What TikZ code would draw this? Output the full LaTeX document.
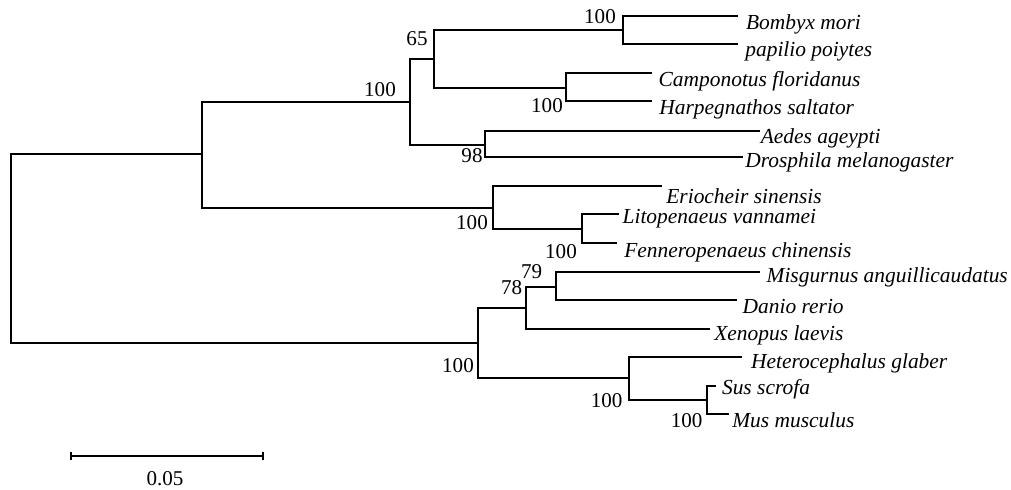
\documentclass[tikz,border=0pt]{standalone}
\usepackage{fontspec}
\setmainfont{Liberation Serif}
\usepackage{tikz}
\usetikzlibrary{calc}

\tikzset{
  branch/.style={line width=1pt},
  taxon/.style={anchor=base west, inner sep=0pt,
    font=\fontsize{12.2}{14}\selectfont\itshape},
  boot/.style={inner sep=0pt, font=\fontsize{12}{14}\selectfont}
}

\begin{document}
\begin{tikzpicture}[x=0.02cm,y=-0.02cm]
  \useasboundingbox (0,0) rectangle (1011,490);

  % Internal nodes
  \coordinate (root) at (11,248);
  \coordinate (arth) at (202,154);
  \coordinate (ins)  at (410,102);
  \coordinate (n65)  at (434,59);
  \coordinate (lep)  at (623,30);
  \coordinate (hym)  at (566,88);
  \coordinate (dip)  at (485,145);
  \coordinate (crus) at (493,208);
  \coordinate (pen)  at (582,229);
  \coordinate (vert) at (478,343);
  \coordinate (n78)  at (526,308);
  \coordinate (n79)  at (556,287);
  \coordinate (mam)  at (629,378);
  \coordinate (sm)   at (707,400);

  % Tips
  \coordinate (bom) at (738,16);
  \coordinate (pap) at (738,44);
  \coordinate (cam) at (652,73);
  \coordinate (har) at (652,101);
  \coordinate (aed) at (760,131);
  \coordinate (dro) at (743,157);
  \coordinate (eri) at (662,186);
  \coordinate (lit) at (619,214);
  \coordinate (fen) at (617,243);
  \coordinate (mis) at (760,272);
  \coordinate (dan) at (737,300);
  \coordinate (xen) at (710,329);
  \coordinate (het) at (742,357);
  \coordinate (sus) at (716,386);
  \coordinate (mus) at (729,414);

  % Branches
  \draw[branch] (root) |- (arth);
  \draw[branch] (root) |- (vert);
  \draw[branch] (arth) |- (ins);
  \draw[branch] (arth) |- (crus);
  \draw[branch] (ins) |- (n65);
  \draw[branch] (ins) |- (dip);
  \draw[branch] (n65) |- (lep);
  \draw[branch] (n65) |- (hym);
  \draw[branch] (lep) |- (bom);
  \draw[branch] (lep) |- (pap);
  \draw[branch] (hym) |- (cam);
  \draw[branch] (hym) |- (har);
  \draw[branch] (dip) |- (aed);
  \draw[branch] (dip) |- (dro);
  \draw[branch] (crus) |- (eri);
  \draw[branch] (crus) |- (pen);
  \draw[branch] (pen) |- (lit);
  \draw[branch] (pen) |- (fen);
  \draw[branch] (vert) |- (n78);
  \draw[branch] (vert) |- (mam);
  \draw[branch] (n78) |- (n79);
  \draw[branch] (n78) |- (xen);
  \draw[branch] (n79) |- (mis);
  \draw[branch] (n79) |- (dan);
  \draw[branch] (mam) |- (het);
  \draw[branch] (mam) |- (sm);
  \draw[branch] (sm) |- (sus);
  \draw[branch] (sm) |- (mus);

  % Taxa
  \node[taxon] (tbom) at (745.7,29.3)  {Bombyx mori};
  \node[taxon] (tpap) at (745,56)      {papilio poiytes};
  \node[taxon] (tcam) at (658.3,86.7)  {Camponotus floridanus};
  \node[taxon] (thar) at (659,114)     {Harpegnathos saltator};
  \node[taxon] (taed) at (760.5,143.3) {Aedes ageypti};
  \node[taxon] (tdro) at (745,167.5)   {Drosphila melanogaster};
  \node[taxon] (teri) at (666,203.3)   {Eriocheir sinensis};
  \node[taxon] (tlit) at (622.3,223.3) {Litopenaeus vannamei};
  \node[taxon] (tfen) at (624,257.3)   {Fenneropenaeus chinensis};
  \node[taxon] (tmis) at (766.3,282.3) {Misgurnus anguillicaudatus};
  \node[taxon] (tdan) at (742.3,313.3) {Danio rerio};
  \node[taxon] (txen) at (714,340)     {Xenopus laevis};
  \node[taxon] (thet) at (750.7,368.3) {Heterocephalus glaber};
  \node[taxon] (tsus) at (721.7,394)   {Sus scrofa};
  \node[taxon] (tmus) at (732,427)     {Mus musculus};

  % Bootstrap values
  \node[boot] (bins)  at (380,90)      {100};
  \node[boot] (b65)   at (417,39)      {65};
  \node[boot] (blep)  at (600,17)      {100};
  \node[boot] (bhym)  at (547,106)     {100};
  \node[boot] (bdip)  at (472,156)     {98};
  \node[boot] (bcrus) at (472,223)     {100};
  \node[boot] (bpen)  at (561,251.5)   {100};
  \node[boot] (b79)   at (531.7,271.5) {79};
  \node[boot] (b78)   at (511.7,288)   {78};
  \node[boot] (bvert) at (458,366)     {100};
  \node[boot] (bmam)  at (606.7,400.5) {100};
  \node[boot] (bsm)   at (686.7,420.5) {100};

  % Scale bar
  \coordinate (sbl) at (71,456);
  \coordinate (sbr) at (263,456);
  \draw[branch] (sbl) -- (sbr);
  \draw[branch] ($(sbl)+(0,-4)$) -- ($(sbl)+(0,4)$);
  \draw[branch] ($(sbr)+(0,-4)$) -- ($(sbr)+(0,4)$);
  \node[boot] (sblab) at (165,479) {0.05};
\end{tikzpicture}
\end{document}
